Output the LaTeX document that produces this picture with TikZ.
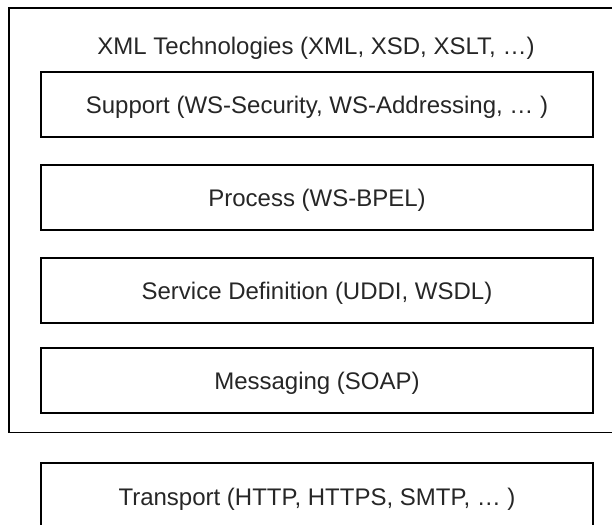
\documentclass[tikz,border=0pt]{standalone}
\usepackage{fontspec}
\setmainfont{Liberation Sans}
\begin{document}
\begin{tikzpicture}[x=1pt,y=-1pt,
  frame/.style={draw=black,line width=1.6pt},
  layer/.style={draw=black,line width=1.6pt,minimum width=552pt,minimum height=65pt,inner sep=0pt,
    font=\fontsize{24}{28}\selectfont,text=black!85,text depth=0pt},
  caption/.style={font=\fontsize{24}{28}\selectfont,text=black!85,text depth=0pt}]
\useasboundingbox (0,0) rectangle (612,524);
% outer stack of XML-based layers (open on the right)
\draw[frame] (620,8) -- (9,8) -- (9,432.5) -- (620,432.5);
\node[caption] (xml) at (316,46) {XML Technologies (XML, XSD, XSLT, …)};
\node[layer] (support) at (317,104.5) {Support (WS-Security, WS-Addressing, … )};
\node[layer] (process) at (317,197.5) {Process (WS-BPEL)};
\node[layer] (service) at (317,290.5) {Service Definition (UDDI, WSDL)};
\node[layer] (messaging) at (317,380.5) {Messaging (SOAP)};
% transport layer, below the frame
\draw[frame] (40.7,540) -- (40.7,463) -- (593,463) -- (593,540);
\node[caption] (transport) at (317,497) {Transport (HTTP, HTTPS, SMTP, … )};
\end{tikzpicture}
\end{document}
